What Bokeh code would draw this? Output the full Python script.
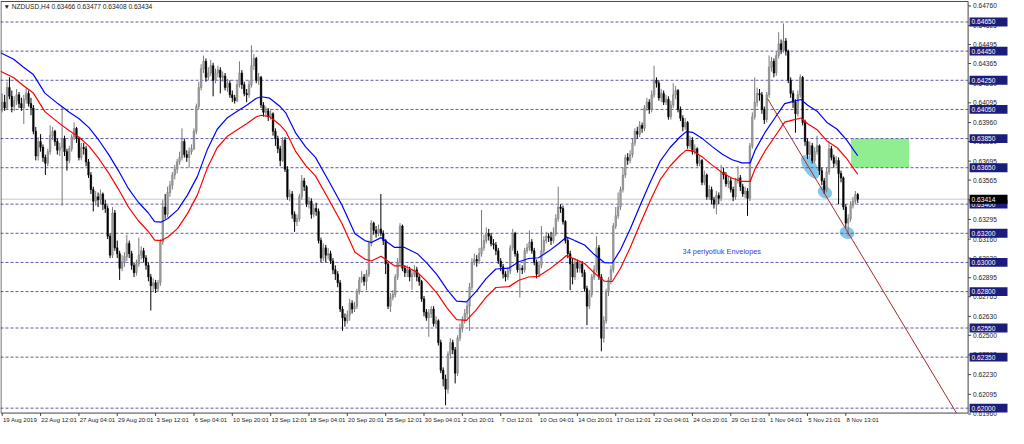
import numpy as np
from bokeh.plotting import figure
from bokeh.models import Range1d, ColumnDataSource
from bokeh.core.properties import value
from bokeh.embed import file_html
from bokeh.resources import INLINE

# ---------------- data (NZDUSD H4) ----------------
opens = [
0.64060,0.64100,0.64060,0.64200,0.64140,0.64070,0.64110,0.64150,0.64090,0.64060,
0.64120,0.64160,0.64090,0.64060,0.63900,0.63730,0.63830,0.63790,0.63720,0.63680,
0.63760,0.63870,0.63900,0.63830,0.63770,0.63790,0.63850,0.63760,0.63700,0.63780,
0.63860,0.63920,0.63850,0.63720,0.63790,0.63780,0.63690,0.63600,0.63500,0.63420,
0.63450,0.63430,0.63470,0.63400,0.63370,0.63180,0.63050,0.63340,0.63100,0.63060,
0.62960,0.63000,0.63040,0.63130,0.63060,0.62980,0.62930,0.62990,0.63050,0.63080,
0.63030,0.62980,0.62900,0.62840,0.62860,0.62820,0.62860,0.63140,0.63380,0.63330,
0.63480,0.63530,0.63600,0.63640,0.63690,0.63720,0.63830,0.63740,0.63720,0.63760,
0.63780,0.63900,0.64070,0.64200,0.64330,0.64380,0.64270,0.64300,0.64350,0.64250,
0.64300,0.64320,0.64270,0.64280,0.64200,0.64230,0.64150,0.64130,0.64110,0.64220,
0.64300,0.64220,0.64160,0.64150,0.64220,0.64350,0.64400,0.64250,0.64270,0.64080,
0.64030,0.64040,0.64000,0.64020,0.63900,0.63850,0.63780,0.63700,0.63840,0.63640,
0.63450,0.63470,0.63330,0.63280,0.63300,0.63450,0.63560,0.63520,0.63400,0.63420,
0.63330,0.63370,0.63350,0.63150,0.63030,0.63100,0.63050,0.63060,0.63010,0.62950,
0.62920,0.62860,0.62680,0.62620,0.62600,0.62640,0.62720,0.62680,0.62700,0.62800,
0.62880,0.62900,0.62870,0.62920,0.63130,0.63270,0.63220,0.63200,0.63230,0.63200,
0.63150,0.62990,0.62700,0.62760,0.62780,0.62900,0.63000,0.63250,0.62960,0.62930,
0.62950,0.62900,0.62920,0.62950,0.62900,0.62870,0.62750,0.62660,0.62620,0.62650,
0.62680,0.62580,0.62600,0.62450,0.62260,0.62200,0.62130,0.62370,0.62450,0.62400,
0.62240,0.62480,0.62550,0.62600,0.62650,0.62700,0.62830,0.63000,0.63020,0.63010,
0.63060,0.63100,0.63150,0.63200,0.63180,0.63130,0.63120,0.63080,0.63010,0.62970,
0.62920,0.62900,0.62940,0.63100,0.63200,0.63060,0.62950,0.62960,0.62950,0.63080,
0.63100,0.63140,0.63080,0.63000,0.62920,0.62980,0.63080,0.63150,0.63180,0.63170,
0.63150,0.63200,0.63300,0.63380,0.63370,0.63280,0.63150,0.63060,0.62990,0.62900,
0.63000,0.62960,0.62990,0.62930,0.62820,0.62700,0.62780,0.62900,0.62950,0.63100,
0.62900,0.62480,0.62600,0.62800,0.62880,0.62950,0.63250,0.63320,0.63380,0.63500,
0.63600,0.63720,0.63700,0.63740,0.63820,0.63900,0.63880,0.63940,0.63920,0.64060,
0.64100,0.64050,0.64150,0.64250,0.64230,0.64130,0.64160,0.64100,0.64120,0.64000,
0.64080,0.64150,0.64180,0.64050,0.63990,0.63930,0.63960,0.63800,0.63840,0.63760,
0.63780,0.63680,0.63700,0.63550,0.63600,0.63450,0.63500,0.63430,0.63400,0.63460,
0.63440,0.63620,0.63600,0.63540,0.63560,0.63500,0.63450,0.63560,0.63580,0.63520,
0.63470,0.63490,0.63440,0.63800,0.64000,0.64100,0.64160,0.64150,0.64050,0.63980,
0.64150,0.64340,0.64380,0.64300,0.64420,0.64500,0.64460,0.64520,0.64450,0.64250,
0.64160,0.64100,0.64020,0.64150,0.64270,0.63960,0.63830,0.63740,0.63800,0.63700,
0.63760,0.63800,0.63630,0.63560,0.63500,0.63620,0.63780,0.63720,0.63680,0.63700,
0.63610,0.63580,0.63380,0.63270,0.63300,0.63390,0.63420,0.63466]

highs = [
0.64160,0.64150,0.64240,0.64270,0.64180,0.64140,0.64190,0.64170,0.64130,0.64150,
0.64200,0.64180,0.64130,0.64080,0.63930,0.63860,0.63880,0.63810,0.63740,0.63780,
0.63940,0.63930,0.63910,0.63850,0.63820,0.64070,0.63870,0.63780,0.63800,0.63880,
0.63960,0.63930,0.63860,0.63820,0.63820,0.63800,0.63710,0.63620,0.63520,0.63490,
0.63480,0.63500,0.63480,0.63430,0.63390,0.63200,0.63380,0.63360,0.63150,0.63080,
0.63050,0.63070,0.63190,0.63150,0.63080,0.63000,0.63020,0.63170,0.63110,0.63100,
0.63050,0.63000,0.62920,0.62890,0.62880,0.62880,0.63160,0.63430,0.63470,0.63520,
0.63560,0.63620,0.63670,0.63710,0.63760,0.63920,0.63850,0.63770,0.63790,0.63810,
0.63920,0.64090,0.64240,0.64360,0.64420,0.64400,0.64340,0.64390,0.64370,0.64330,
0.64350,0.64340,0.64310,0.64300,0.64260,0.64250,0.64180,0.64150,0.64250,0.64380,
0.64320,0.64240,0.64190,0.64250,0.64490,0.64430,0.64410,0.64300,0.64280,0.64100,
0.64070,0.64060,0.64050,0.64030,0.63920,0.63870,0.63800,0.63860,0.63860,0.63660,
0.63500,0.63490,0.63350,0.63330,0.63470,0.63600,0.63580,0.63530,0.63450,0.63440,
0.63400,0.63410,0.63370,0.63170,0.63130,0.63120,0.63100,0.63080,0.63030,0.62980,
0.62940,0.62880,0.62700,0.62650,0.62670,0.62750,0.62740,0.62730,0.62820,0.62900,
0.62940,0.62920,0.62950,0.63150,0.63290,0.63280,0.63250,0.63260,0.63470,0.63220,
0.63160,0.63000,0.62790,0.62810,0.62920,0.63030,0.63270,0.63260,0.62980,0.62980,
0.62970,0.62950,0.62980,0.62970,0.62920,0.62880,0.62770,0.62680,0.62680,0.62700,
0.62700,0.62630,0.62610,0.62470,0.62280,0.62230,0.62390,0.62480,0.62470,0.62420,
0.62500,0.62580,0.62630,0.62680,0.62730,0.62860,0.63030,0.63060,0.63050,0.63100,
0.63360,0.63190,0.63240,0.63230,0.63200,0.63160,0.63140,0.63100,0.63030,0.62990,
0.62940,0.62970,0.63120,0.63230,0.63210,0.63080,0.62990,0.62980,0.63100,0.63130,
0.63220,0.63160,0.63100,0.63020,0.63010,0.63250,0.63180,0.63210,0.63200,0.63210,
0.63240,0.63330,0.63520,0.63400,0.63390,0.63290,0.63170,0.63080,0.63030,0.63030,
0.63020,0.63010,0.63010,0.62950,0.62840,0.62810,0.62920,0.62980,0.63180,0.63120,
0.62920,0.62630,0.62820,0.62900,0.62980,0.63270,0.63380,0.63480,0.63520,0.63650,
0.63740,0.63750,0.63770,0.63850,0.63920,0.63930,0.63970,0.63960,0.64080,0.64130,
0.64120,0.64180,0.64350,0.64270,0.64250,0.64190,0.64180,0.64150,0.64140,0.64110,
0.64230,0.64210,0.64190,0.64070,0.64010,0.63990,0.63970,0.63870,0.63860,0.63810,
0.63790,0.63730,0.63710,0.63630,0.63610,0.63530,0.63520,0.63450,0.63490,0.63480,
0.63670,0.63650,0.63620,0.63590,0.63580,0.63520,0.63580,0.63660,0.63600,0.63540,
0.63520,0.63510,0.63820,0.64030,0.64270,0.64200,0.64190,0.64170,0.64070,0.64170,
0.64420,0.64410,0.64400,0.64450,0.64580,0.64530,0.64640,0.64540,0.64460,0.64270,
0.64180,0.64120,0.64180,0.64290,0.64280,0.63980,0.63850,0.63830,0.63820,0.63790,
0.63870,0.63810,0.63650,0.63580,0.63650,0.63830,0.63800,0.63740,0.63730,0.63720,
0.63630,0.63590,0.63400,0.63330,0.63420,0.63450,0.63490,0.63477]

lows = [
0.64030,0.64040,0.64050,0.64120,0.64030,0.64040,0.64080,0.64060,0.64040,0.63950,
0.64090,0.64070,0.64010,0.63880,0.63700,0.63700,0.63760,0.63690,0.63600,0.63660,
0.63740,0.63840,0.63800,0.63740,0.63730,0.63390,0.63730,0.63630,0.63680,0.63760,
0.63840,0.63820,0.63700,0.63700,0.63740,0.63660,0.63580,0.63470,0.63350,0.63390,
0.63380,0.63400,0.63360,0.63340,0.63160,0.63030,0.63030,0.63080,0.63030,0.62880,
0.62940,0.62970,0.63010,0.63030,0.62950,0.62900,0.62910,0.62970,0.63020,0.63000,
0.62950,0.62870,0.62670,0.62800,0.62790,0.62800,0.62840,0.63120,0.63300,0.63310,
0.63450,0.63500,0.63570,0.63610,0.63670,0.63700,0.63720,0.63690,0.63650,0.63740,
0.63770,0.63880,0.64050,0.64180,0.64300,0.64240,0.64250,0.64280,0.64140,0.64230,
0.64270,0.64160,0.64240,0.64180,0.64170,0.64130,0.64100,0.64090,0.64100,0.64200,
0.64190,0.64140,0.64100,0.64130,0.64200,0.64320,0.64230,0.64220,0.64060,0.64000,
0.64000,0.63970,0.63980,0.63870,0.63800,0.63750,0.63660,0.63690,0.63620,0.63430,
0.63420,0.63300,0.63210,0.63250,0.63280,0.63430,0.63490,0.63380,0.63370,0.63300,
0.63310,0.63320,0.63130,0.63000,0.63010,0.63000,0.63020,0.62990,0.62920,0.62880,
0.62830,0.62660,0.62530,0.62560,0.62580,0.62600,0.62650,0.62660,0.62680,0.62780,
0.62860,0.62840,0.62810,0.62900,0.63110,0.63190,0.63170,0.63180,0.63180,0.63120,
0.62920,0.62680,0.62660,0.62740,0.62760,0.62880,0.62980,0.62940,0.62900,0.62900,
0.62870,0.62810,0.62900,0.62870,0.62840,0.62730,0.62630,0.62600,0.62490,0.62620,
0.62560,0.62550,0.62430,0.62240,0.62150,0.62020,0.62100,0.62340,0.62370,0.62170,
0.62220,0.62460,0.62520,0.62580,0.62620,0.62530,0.62810,0.62980,0.62970,0.62990,
0.63040,0.63080,0.63130,0.63150,0.63110,0.63090,0.63050,0.62990,0.62940,0.62890,
0.62870,0.62880,0.62920,0.63080,0.63040,0.62930,0.62760,0.62920,0.62930,0.63060,
0.63080,0.63060,0.62980,0.62890,0.62900,0.62960,0.63060,0.63130,0.63140,0.63120,
0.63130,0.63180,0.63280,0.63340,0.63260,0.63130,0.63030,0.62810,0.62850,0.62880,
0.62930,0.62930,0.62900,0.62800,0.62570,0.62680,0.62760,0.62880,0.62930,0.62880,
0.62390,0.62450,0.62580,0.62770,0.62850,0.62930,0.63230,0.63300,0.63360,0.63480,
0.63580,0.63670,0.63680,0.63720,0.63800,0.63850,0.63860,0.63890,0.63900,0.64040,
0.64020,0.64030,0.64130,0.64200,0.64110,0.64100,0.64080,0.64080,0.63980,0.63980,
0.64060,0.64120,0.64030,0.63970,0.63900,0.63910,0.63780,0.63780,0.63740,0.63740,
0.63660,0.63660,0.63530,0.63530,0.63430,0.63430,0.63400,0.63370,0.63330,0.63400,
0.63420,0.63570,0.63520,0.63510,0.63480,0.63420,0.63430,0.63540,0.63490,0.63450,
0.63440,0.63320,0.63420,0.63780,0.63980,0.64070,0.64110,0.64020,0.63950,0.63960,
0.64130,0.64310,0.64270,0.64280,0.64400,0.64430,0.64440,0.64420,0.64230,0.64130,
0.64060,0.63890,0.64000,0.64130,0.63940,0.63800,0.63710,0.63720,0.63680,0.63680,
0.63740,0.63600,0.63530,0.63470,0.63480,0.63600,0.63700,0.63650,0.63660,0.63400,
0.63550,0.63360,0.63240,0.63180,0.63280,0.63370,0.63400,0.63408]

closes = [
0.64100,0.64060,0.64200,0.64140,0.64070,0.64110,0.64150,0.64090,0.64060,0.64120,
0.64160,0.64090,0.64060,0.63900,0.63730,0.63830,0.63790,0.63720,0.63680,0.63760,
0.63870,0.63900,0.63830,0.63770,0.63790,0.63850,0.63760,0.63700,0.63780,0.63860,
0.63920,0.63850,0.63720,0.63790,0.63780,0.63690,0.63600,0.63500,0.63420,0.63450,
0.63430,0.63470,0.63400,0.63370,0.63180,0.63050,0.63340,0.63100,0.63060,0.62960,
0.63000,0.63040,0.63130,0.63060,0.62980,0.62930,0.62990,0.63050,0.63080,0.63030,
0.62980,0.62900,0.62840,0.62860,0.62820,0.62860,0.63140,0.63380,0.63330,0.63480,
0.63530,0.63600,0.63640,0.63690,0.63720,0.63830,0.63740,0.63720,0.63760,0.63780,
0.63900,0.64070,0.64200,0.64330,0.64380,0.64270,0.64300,0.64350,0.64250,0.64300,
0.64320,0.64270,0.64280,0.64200,0.64230,0.64150,0.64130,0.64110,0.64220,0.64300,
0.64220,0.64160,0.64150,0.64220,0.64350,0.64400,0.64250,0.64270,0.64080,0.64030,
0.64040,0.64000,0.64020,0.63900,0.63850,0.63780,0.63700,0.63840,0.63640,0.63450,
0.63470,0.63330,0.63280,0.63300,0.63450,0.63560,0.63520,0.63400,0.63420,0.63330,
0.63370,0.63350,0.63150,0.63030,0.63100,0.63050,0.63060,0.63010,0.62950,0.62920,
0.62860,0.62680,0.62620,0.62600,0.62640,0.62720,0.62680,0.62700,0.62800,0.62880,
0.62900,0.62870,0.62920,0.63130,0.63270,0.63220,0.63200,0.63230,0.63200,0.63150,
0.62990,0.62700,0.62760,0.62780,0.62900,0.63000,0.63250,0.62960,0.62930,0.62950,
0.62900,0.62920,0.62950,0.62900,0.62870,0.62750,0.62660,0.62620,0.62650,0.62680,
0.62580,0.62600,0.62450,0.62260,0.62200,0.62130,0.62370,0.62450,0.62400,0.62240,
0.62480,0.62550,0.62600,0.62650,0.62700,0.62830,0.63000,0.63020,0.63010,0.63060,
0.63100,0.63150,0.63200,0.63180,0.63130,0.63120,0.63080,0.63010,0.62970,0.62920,
0.62900,0.62940,0.63100,0.63200,0.63060,0.62950,0.62960,0.62950,0.63080,0.63100,
0.63140,0.63080,0.63000,0.62920,0.62980,0.63080,0.63150,0.63180,0.63170,0.63150,
0.63200,0.63300,0.63380,0.63370,0.63280,0.63150,0.63060,0.62990,0.62900,0.63000,
0.62960,0.62990,0.62930,0.62820,0.62700,0.62780,0.62900,0.62950,0.63100,0.62900,
0.62480,0.62600,0.62800,0.62880,0.62950,0.63250,0.63320,0.63380,0.63500,0.63600,
0.63720,0.63700,0.63740,0.63820,0.63900,0.63880,0.63940,0.63920,0.64060,0.64100,
0.64050,0.64150,0.64250,0.64230,0.64130,0.64160,0.64100,0.64120,0.64000,0.64080,
0.64150,0.64180,0.64050,0.63990,0.63930,0.63960,0.63800,0.63840,0.63760,0.63780,
0.63680,0.63700,0.63550,0.63600,0.63450,0.63500,0.63430,0.63400,0.63460,0.63440,
0.63620,0.63600,0.63540,0.63560,0.63500,0.63450,0.63560,0.63580,0.63520,0.63470,
0.63490,0.63440,0.63800,0.64000,0.64100,0.64160,0.64150,0.64050,0.63980,0.64150,
0.64340,0.64380,0.64300,0.64420,0.64500,0.64460,0.64520,0.64450,0.64250,0.64160,
0.64100,0.64020,0.64150,0.64270,0.63960,0.63830,0.63740,0.63800,0.63700,0.63760,
0.63800,0.63630,0.63560,0.63500,0.63620,0.63780,0.63720,0.63680,0.63700,0.63610,
0.63580,0.63380,0.63270,0.63300,0.63390,0.63420,0.63466,0.63434]

# 34-period Envelopes (read at sample bars)
env_x = [-0.7, 4.8, 8.9, 13.0, 17.8, 23.2, 28.0, 32.1, 36.2, 40.4, 44.5, 48.6, 52.7, 56.8, 60.9,
         63.6, 66.4, 69.1, 73.2, 77.3, 81.4, 85.5, 89.7, 93.8, 97.9, 102.0, 106.1, 108.1, 111.6,
         115.7, 118.4, 122.5, 126.6, 130.7, 136.2, 141.7, 147.2, 151.3, 154.0, 158.1, 163.6, 167.7,
         173.2, 177.3, 181.4, 185.5, 189.6, 193.7, 197.8, 201.9, 206.0, 211.5, 215.6, 219.7, 223.8,
         227.9, 232.0, 235.5, 238.9, 243.0, 247.1, 251.2, 254.6, 258.0, 262.1, 266.3, 270.4, 274.5,
         278.6, 282.7, 285.4, 288.2, 292.3, 296.4, 300.5, 304.6, 308.7, 312.1, 314.2, 318.3, 322.4,
         326.5, 330.6, 333.3, 336.1, 340.2, 344.3, 348.4, 352.5, 355.3, 357.0]
env_upper = [0.64439, 0.64394, 0.64339, 0.64289, 0.64162, 0.64090, 0.64030, 0.63986, 0.63925, 0.63837,
             0.63738, 0.63627, 0.63506, 0.63413, 0.63341, 0.63280, 0.63277, 0.63302, 0.63361, 0.63462,
             0.63589, 0.63771, 0.63914, 0.63991, 0.64035, 0.64079, 0.64127, 0.64137, 0.64127, 0.64074,
             0.64024, 0.63887, 0.63793, 0.63721, 0.63561, 0.63396, 0.63197, 0.63150, 0.63137, 0.63170,
             0.63104, 0.63104, 0.63060, 0.62994, 0.62916, 0.62817, 0.62734, 0.62729, 0.62801, 0.62889,
             0.62955, 0.62961, 0.63005, 0.63027, 0.63032, 0.63076, 0.63126, 0.63175, 0.63150, 0.63120,
             0.63054, 0.62999, 0.62996, 0.63087, 0.63231, 0.63396, 0.63550, 0.63693, 0.63787, 0.63859,
             0.63898, 0.63892, 0.63848, 0.63793, 0.63743, 0.63705, 0.63683, 0.63683, 0.63771, 0.63892,
             0.63991, 0.64090, 0.64107, 0.64118, 0.64079, 0.64035, 0.63958, 0.63914, 0.63837, 0.63771,
             0.63732]
env_lower = [0.64312, 0.64267, 0.64212, 0.64162, 0.64035, 0.63963, 0.63903, 0.63859, 0.63798, 0.63710,
             0.63611, 0.63500, 0.63379, 0.63286, 0.63214, 0.63153, 0.63150, 0.63175, 0.63234, 0.63335,
             0.63462, 0.63644, 0.63787, 0.63864, 0.63908, 0.63952, 0.64000, 0.64010, 0.64000, 0.63947,
             0.63897, 0.63760, 0.63666, 0.63594, 0.63434, 0.63269, 0.63070, 0.63023, 0.63010, 0.63043,
             0.62977, 0.62977, 0.62933, 0.62867, 0.62789, 0.62690, 0.62607, 0.62602, 0.62674, 0.62762,
             0.62828, 0.62834, 0.62878, 0.62900, 0.62905, 0.62949, 0.62999, 0.63048, 0.63023, 0.62993,
             0.62927, 0.62872, 0.62869, 0.62960, 0.63104, 0.63269, 0.63423, 0.63566, 0.63660, 0.63732,
             0.63771, 0.63765, 0.63721, 0.63666, 0.63616, 0.63578, 0.63556, 0.63556, 0.63644, 0.63765,
             0.63864, 0.63963, 0.63980, 0.63991, 0.63952, 0.63908, 0.63831, 0.63787, 0.63710, 0.63644,
             0.63605]

levels = [0.64650, 0.64450, 0.64250, 0.64050, 0.63850, 0.63650, 0.63400, 0.63200, 0.63000,
          0.62800, 0.62550, 0.62350, 0.62000]
level_labels = ["0.64650", "0.64450", "0.64250", "0.64050", "0.63850", "0.63650", "0.63400",
                "0.63200", "0.63000", "0.62800", "0.62550", "0.62350", "0.62000"]
last_price = 0.63434
last_label = "0.63414"

ytick_vals = [0.61960, 0.62095, 0.62230, 0.62365, 0.62500, 0.62630, 0.62765, 0.62895, 0.63030,
              0.63160, 0.63295, 0.63430, 0.63565, 0.63695, 0.63830, 0.63960, 0.64095, 0.64230,
              0.64365, 0.64495, 0.64625, 0.64760]
ytick_labels = ["0.61960", "0.62095", "0.62230", "0.62365", "0.62500", "0.62630", "0.62765",
                "0.62895", "0.63030", "0.63160", "0.63295", "0.63430", "0.63565", "0.63695",
                "0.63830", "0.63960", "0.64095", "0.64230", "0.64365", "0.64495", "0.64625",
                "0.64760"]

xtick_idx = [0, 16, 32, 48, 64, 80, 96, 112, 128, 144, 160, 176, 192, 208, 224, 240, 256, 272,
             288, 304, 320, 336, 352]
xtick_labels = ["19 Aug 2019", "22 Aug 12:01", "27 Aug 04:01", "29 Aug 20:01", "3 Sep 12:01",
                "6 Sep 04:01", "10 Sep 20:01", "13 Sep 12:01", "18 Sep 04:01", "20 Sep 20:01",
                "25 Sep 12:01", "30 Sep 04:01", "2 Oct 20:01", "7 Oct 12:01", "10 Oct 04:01",
                "14 Oct 20:01", "17 Oct 12:01", "22 Oct 04:01", "24 Oct 20:01", "29 Oct 12:01",
                "1 Nov 04:01", "5 Nov 21:01", "8 Nov 13:01"]

# drawn objects (bar index, price)
trend_x = [319.3, 398.2]
trend_y = [0.64125, 0.619663]
zone_left, zone_right, zone_bottom, zone_top = [354.2], [378.4], [0.63650], [0.63850]
ell_x = [337.1, 343.3, 352.5]
ell_y = [0.63656, 0.63481, 0.63203]
note_x, note_y, note_text = [283.9], [0.63078], ["34 periyotluk Envelopes"]
header_text = ["\u25BC NZDUSD,H4  0.63466 0.63477 0.63408 0.63434"]

# ---------------- geometry ----------------
FONT = value("Liberation Sans")
FS = "6.6px"
FS_DATE = "6px"
PX = 1 / 2.4345          # bars per screen pixel of the original
PY = 1 / 15117.0         # price per screen pixel of the original
X0, XR = -0.72, 419.9    # whole canvas, bars
AX = 403.05              # price scale line
YT, YB = 0.647975, 0.618604
FR_TOP, FR_BOT = 0.647909, 0.619663

p = figure(width=1008, height=428, output_backend="svg", toolbar_location=None,
           x_range=Range1d(X0, XR), y_range=Range1d(YB, YT),
           x_axis_location=None, y_axis_location=None, min_border=0)
p.grid.visible = False
p.outline_line_color = None
p.background_fill_color = "white"
p.border_fill_color = "white"

# green zone and marker ellipses
p.quad(left=zone_left, right=zone_right, bottom=zone_bottom, top=zone_top,
       fill_color="#90ee90", line_color=None)
p.ellipse(x=ell_x, y=ell_y, width=[27, 15, 15], height=[13, 12, 12], angle=[-1.0, -0.45, -0.3],
          width_units="screen", height_units="screen", fill_color="#86c6e8", line_color=None)

# horizontal level lines and current price line
p.segment(x0=[X0] * len(levels), x1=[AX] * len(levels), y0=levels, y1=levels,
          line_color="#5a5aa6", line_dash="3 2", line_width=1)
p.segment(x0=[X0], x1=[AX], y0=[last_price], y1=[last_price], line_color="#c8c8c8", line_width=1)

# candles
o = np.array(opens); c = np.array(closes); h = np.array(highs); l = np.array(lows)
idx = np.arange(len(c))
up = c >= o
src = ColumnDataSource(dict(
    x=idx, high=h, low=l, top=np.maximum(o, c), bottom=np.minimum(o, c),
    body=["#a6a6a6" if u else "#000000" for u in up],
    wick=["#7a7a7a" if u else "#000000" for u in up]))
p.segment(x0="x", y0="low", x1="x", y1="high", line_color="wick", line_width=1, source=src)
p.vbar(x="x", width=0.62, top="top", bottom="bottom", fill_color="body", line_color="wick",
       line_width=0.6, source=src)

# envelopes
p.line(env_x, env_upper, line_color="#0000ff", line_width=1.2)
p.line(env_x, env_lower, line_color="#ff0000", line_width=1.2)

# trend line
p.line(trend_x, trend_y, line_color="#a52a2a", line_width=1)

# chart frame
p.quad(left=[X0 + 0.5 * PX], right=[AX], bottom=[FR_BOT], top=[FR_TOP],
       fill_color=None, line_color="#444444", line_width=1)

# price scale: ticks and labels
p.segment(x0=[AX] * len(ytick_vals), x1=[AX + 3 * PX] * len(ytick_vals), y0=ytick_vals, y1=ytick_vals,
          line_color="#444444", line_width=1)
p.text(x=[AX + 5 * PX] * len(ytick_vals), y=ytick_vals, text=ytick_labels, text_font=FONT,
       text_font_size=FS, text_color="#222222", text_baseline="middle", text_align="left")

# highlighted level labels
n = len(levels)
p.quad(left=[AX + 1.5 * PX] * n, right=[AX + 40 * PX] * n,
       bottom=[v - 4.6 * PY for v in levels], top=[v + 4.6 * PY for v in levels],
       fill_color="#1c1c7a", line_color=None)
p.text(x=[AX + 3.5 * PX] * n, y=levels, text=level_labels, text_font=FONT, text_font_size=FS,
       text_color="white", text_baseline="middle", text_align="left")
p.quad(left=[AX + 1.5 * PX], right=[AX + 40 * PX], bottom=[last_price - 4.6 * PY],
       top=[last_price + 4.6 * PY], fill_color="#000000", line_color=None)
p.text(x=[AX + 3.5 * PX], y=[last_price], text=[last_label], text_font=FONT, text_font_size=FS,
       text_color="white", text_baseline="middle", text_align="left")

# time scale: ticks and labels
m = len(xtick_idx)
p.segment(x0=xtick_idx, x1=xtick_idx, y0=[FR_BOT] * m, y1=[FR_BOT - 3 * PY] * m,
          line_color="#444444", line_width=1)
p.text(x=[t + 0.8 * PX for t in xtick_idx], y=[FR_BOT - 4 * PY] * m, text=xtick_labels,
       text_font=FONT, text_font_size=FS_DATE, text_color="#222222", text_baseline="top",
       text_align="left")

# texts
p.text(x=[X0 + 3 * PX], y=[FR_TOP - 2 * PY], text=header_text, text_font=FONT, text_font_size=FS,
       text_color="#222222", text_baseline="top", text_align="left")
p.text(x=note_x, y=note_y, text=note_text, text_font=FONT, text_font_size="7.4px",
       text_color="#3a3ad0", text_baseline="middle", text_align="left")

open("out.html", "w").write(file_html(p, INLINE))
